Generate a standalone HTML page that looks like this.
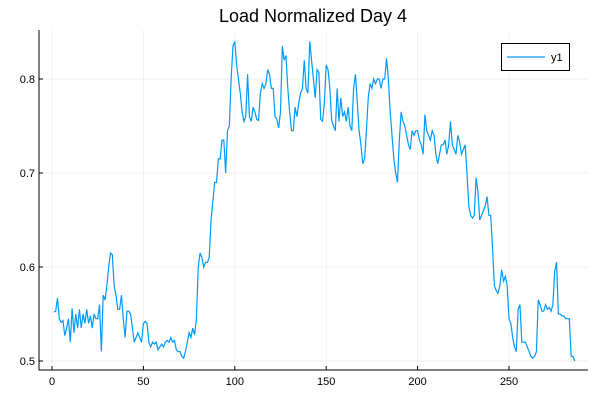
<!DOCTYPE html>
<html><head><meta charset="utf-8"><style>body{margin:0;background:#fff}svg{display:block;font-family:"Liberation Sans",sans-serif}</style></head>
<body>
<svg id="c" width="600" height="400"></svg>
<script>
const values=[0.552,0.553,0.567,0.545,0.541,0.543,0.527,0.535,0.545,0.52,0.556,0.53,0.55,0.535,0.555,0.535,0.55,0.54,0.555,0.54,0.548,0.535,0.55,0.545,0.545,0.56,0.51,0.57,0.565,0.58,0.6,0.615,0.613,0.58,0.57,0.555,0.555,0.57,0.545,0.525,0.553,0.553,0.55,0.535,0.52,0.525,0.53,0.525,0.52,0.54,0.542,0.54,0.52,0.515,0.52,0.518,0.52,0.512,0.515,0.518,0.515,0.52,0.522,0.52,0.525,0.52,0.522,0.512,0.51,0.51,0.505,0.503,0.51,0.52,0.53,0.525,0.535,0.528,0.545,0.6,0.615,0.61,0.6,0.605,0.605,0.61,0.65,0.67,0.69,0.69,0.715,0.715,0.735,0.735,0.70,0.745,0.75,0.8,0.835,0.84,0.815,0.8,0.785,0.765,0.755,0.76,0.805,0.76,0.755,0.77,0.765,0.757,0.756,0.785,0.795,0.79,0.795,0.81,0.805,0.79,0.79,0.76,0.757,0.748,0.765,0.835,0.82,0.825,0.79,0.765,0.745,0.745,0.77,0.76,0.775,0.785,0.79,0.82,0.79,0.785,0.84,0.82,0.8,0.78,0.81,0.807,0.757,0.755,0.775,0.815,0.81,0.79,0.756,0.75,0.745,0.79,0.755,0.78,0.76,0.765,0.755,0.77,0.75,0.745,0.79,0.805,0.775,0.745,0.73,0.71,0.715,0.745,0.78,0.795,0.79,0.80,0.795,0.80,0.80,0.79,0.80,0.80,0.822,0.80,0.765,0.74,0.715,0.70,0.69,0.735,0.765,0.755,0.75,0.74,0.73,0.725,0.745,0.74,0.745,0.745,0.735,0.73,0.72,0.762,0.745,0.74,0.735,0.745,0.74,0.72,0.71,0.72,0.73,0.73,0.735,0.72,0.73,0.755,0.73,0.725,0.72,0.74,0.733,0.72,0.725,0.73,0.70,0.665,0.655,0.652,0.655,0.695,0.68,0.65,0.655,0.66,0.665,0.675,0.655,0.655,0.62,0.58,0.575,0.572,0.58,0.597,0.585,0.59,0.58,0.545,0.54,0.525,0.515,0.51,0.555,0.56,0.52,0.52,0.52,0.515,0.51,0.505,0.503,0.505,0.51,0.565,0.56,0.553,0.553,0.56,0.555,0.557,0.553,0.56,0.595,0.605,0.55,0.55,0.548,0.548,0.545,0.545,0.545,0.505,0.505,0.5];
const xTicks=[0,50,100,150,200,250];
const yTicks=[0.5,0.6,0.7,0.8];
const yTickLabels=["0.5","0.6","0.7","0.8"];
const NS="http://www.w3.org/2000/svg";
const svg=document.getElementById('c');
const L=39,T=30,R=588,B=370;
const xs=v=>52+v*(457/250);
const ys=v=>361-(v-0.5)*940;
function mk(tag,attrs,parent){const e=document.createElementNS(NS,tag);for(const k in attrs)e.setAttribute(k,attrs[k]);(parent||svg).appendChild(e);return e;}
xTicks.forEach(t=>{
  const g=mk('line',{x1:xs(t),x2:xs(t),y1:T,y2:B,stroke:'#000','stroke-opacity':0.1,'stroke-width':0.5});
  
  
  const k=mk('line',{x1:xs(t),x2:xs(t),y1:B,y2:B-4,stroke:'#000','stroke-width':1});
  
  
  const l=mk('text',{x:xs(t),y:B+15,'text-anchor':'middle','font-size':11,fill:'#000'});
  l.textContent=t;
  
  
});
yTicks.forEach((t,i)=>{
  const g=mk('line',{x1:L,x2:R,y1:ys(t),y2:ys(t),stroke:'#000','stroke-opacity':0.1,'stroke-width':0.5});
  
  
  const k=mk('line',{x1:L,x2:L+4,y1:ys(t),y2:ys(t),stroke:'#000','stroke-width':1});
  
  
  const l=mk('text',{x:L-4,y:ys(t)+4,'text-anchor':'end','font-size':11,fill:'#000'});
  l.textContent=yTickLabels[i];
  
  
});
const ax=mk('path',{d:`M${L},${T}V${B}H${R}`,fill:'none',stroke:'#000','stroke-width':1});


const line=mk('polyline',{points:values.map((v,i)=>xs(i+1).toFixed(2)+','+ys(v).toFixed(2)).join(' '),fill:'none',stroke:'#009af9','stroke-width':1.2});


const title=mk('text',{x:313,y:22,'text-anchor':'middle','font-size':18,fill:'#000'});
title.textContent='Load Normalized Day 4';


const lg=mk('g',{});


mk('rect',{x:501.5,y:43.5,width:68,height:27,fill:'#fff',stroke:'#000','stroke-width':1},lg);
const le=mk('line',{x1:507,x2:545,y1:57,y2:57,stroke:'#009af9','stroke-width':1.2},lg);


const lt=mk('text',{x:551,y:61,'font-size':11,fill:'#000'},lg);
lt.textContent='y1';


</script>
</body></html>
